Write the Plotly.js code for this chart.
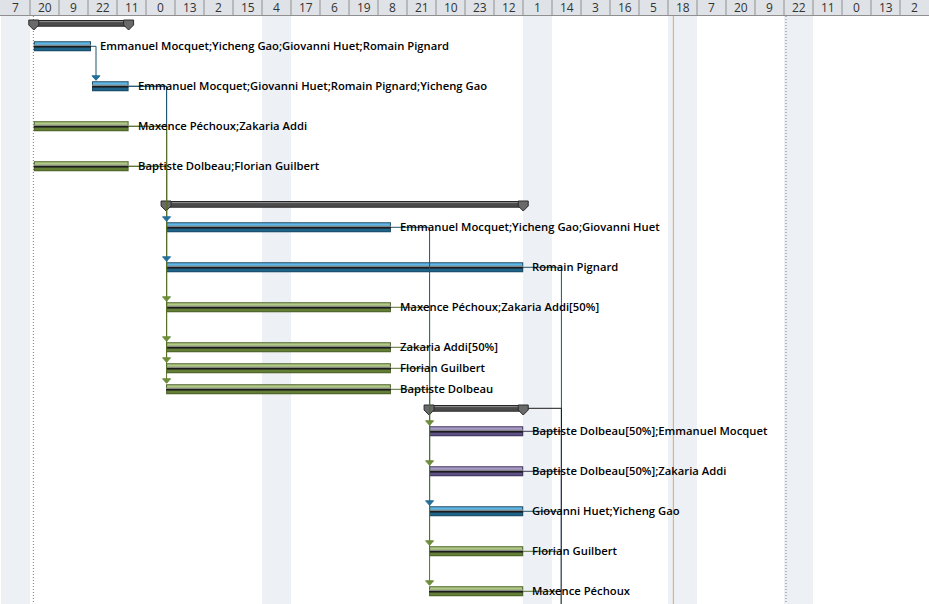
<!DOCTYPE html>
<html><head><meta charset="utf-8">
<script src="https://cdn.plot.ly/plotly-3.0.1.min.js"></script>
<style>html,body{margin:0;padding:0;background:#fff;overflow:hidden}#chart{width:929px;height:604px}</style>
</head><body><div id="chart"></div>
<script>
// ================= DATA =================
const headerLabels = ['7','20','9','22','11','0','13','2','15','4','17','6','19','8','21','10','23','12','1','14','3','16','5','18','7','20','9','22','11','0','13','2'];
const hoursPerColumn = 13;               // timescale: each header cell = 13 h
const rowKinds = ['summary','task','task','task','task',
                  'summary','task','task','task','task','task','task',
                  'summary','task','task','task','task','task'];
// start / finish in hours from the left edge of the timescale
const rowStarts = [14.7, 14.7, 40.8, 14.7, 14.7,
                   74.0, 74.0, 74.0, 74.0, 74.0, 74.0, 74.0,
                   191.9, 191.9, 191.9, 191.9, 191.9, 191.9];
const rowEnds   = [57.2, 40.35, 57.2, 57.2, 57.2,
                   234.1, 174.8, 234.1, 174.8, 174.8, 174.8, 174.8,
                   234.1, 234.1, 234.1, 234.1, 234.1, 234.1];
const resourceLabels = ['',
  'Emmanuel Mocquet;Yicheng Gao;Giovanni Huet;Romain Pignard',
  'Emmanuel Mocquet;Giovanni Huet;Romain Pignard;Yicheng Gao',
  'Maxence Péchoux;Zakaria Addi',
  'Baptiste Dolbeau;Florian Guilbert',
  '',
  'Emmanuel Mocquet;Yicheng Gao;Giovanni Huet',
  'Romain Pignard',
  'Maxence Péchoux;Zakaria Addi[50%]',
  'Zakaria Addi[50%]',
  'Florian Guilbert',
  'Baptiste Dolbeau',
  '',
  'Baptiste Dolbeau[50%];Emmanuel Mocquet',
  'Baptiste Dolbeau[50%];Zakaria Addi',
  'Giovanni Huet;Yicheng Gao',
  'Florian Guilbert',
  'Maxence Péchoux'];
// finish-to-start links [predecessor row, successor row]; -1 = successor below the visible area
const linkPred = [1, 2, 2, 3, 3, 4, 4, 11, 9, 6, 10, 8, 7, 12, 13, 14, 15, 16, 17];
const linkSucc = [2, 6, 7, 8, 9, 10, 11, 13, 14, 15, 16, 17, -1, -1, -1, -1, -1, -1, -1];
const offscreenSuccessorStart = 251.0;
const nonWorkingStarts = [0, 117, 234, 299, 351];
const nonWorkingEnds   = [13, 130, 247, 312, 364];
const projectStart = 14.5;
const projectFinish = 351.9;
const statusDate = 301.4;

// ================= LAYOUT / STYLE =================
const W = 929, H = 604, headerH = 16;
const rowHeights = [21,40,40,40,40,21,40,40,40,21,21,21,21,40,40,40,40,40];
const rowStyle = ['sum','blue','blue','olive','olive','sum','blue','blue','olive','olive','olive','olive',
                  'sum','purple','purple','blue','olive','olive'];
const palette = {
  blue:   {border:'#1b4a66', light:'#5cb6e6', dark:'#1e6488', link:'#1d5470', arrow:'#236f99'},
  olive:  {border:'#4b6127', light:'#b0c985', dark:'#637f37', link:'#566f2c', arrow:'#6d8c38'},
  purple: {border:'#3c325a', light:'#a79ac7', dark:'#5e5186', link:'#3a3257', arrow:'#5e5186'},
  sum:    {border:'#2a2a2a', light:'#8e8e8e', dark:'#4a4a4a', link:'#1a1a1a', arrow:'#1a1a1a'}
};
const pxPerHour = 29 / hoursPerColumn;
const px = p => p / pxPerHour;            // pixel length -> hours
const xMax = headerLabels.length * hoursPerColumn;
const xMin = -px(1);

// row geometry
const rowTop = [];
let acc = headerH;
rowHeights.forEach(h => { rowTop.push(acc); acc += h; });
const center = rowTop.map((t, i) => rowKinds[i] === 'summary' ? t + 7.3 : t + 9.3);

const traces = [];
function barLayer(idx, y0, y1, color, inset) {
  traces.push({
    type: 'bar', orientation: 'h',
    y: idx.map(i => center[i]),
    base: idx.map(i => rowStarts[i] + inset),
    x: idx.map(i => rowEnds[i] - rowStarts[i] - 2 * inset),
    offset: y0, width: y1 - y0,
    marker: {color: color, line: {width: 0}},
    hoverinfo: 'skip', showlegend: false
  });
}
// task bars
['blue', 'olive', 'purple'].forEach(st => {
  const idx = rowStyle.map((s, i) => s === st ? i : -1).filter(i => i >= 0);
  const p = palette[st];
  barLayer(idx, -5, 5, p.border, 0);
  barLayer(idx, -4, -1.6, p.light, px(1));
  barLayer(idx, 1.2, 4, p.dark, px(1));
  barLayer(idx, -1.6, -0.6, '#c9c9c9', 0);
  barLayer(idx, -0.6, 1.2, '#1c1c1c', 0);
});
// summary bars
const sIdx = rowKinds.map((k, i) => k === 'summary' ? i : -1).filter(i => i >= 0);
barLayer(sIdx, -3.3, 3.4, '#262626', 0);
barLayer(sIdx, -2.4, -0.9, '#8a8a8a', 0);
barLayer(sIdx, -0.9, 2.5, '#4b4b4b', 0);
function poly(xs, ys, fill, line) {
  traces.push({type: 'scatter', mode: 'lines', x: xs, y: ys, fill: 'toself', fillcolor: fill,
    line: {color: line, width: 1}, hoverinfo: 'skip', showlegend: false});
}
sIdx.forEach(i => {
  const top = center[i] - 3.3;
  [rowStarts[i], rowEnds[i]].forEach(xc => {
    poly([xc - px(5), xc + px(5), xc + px(5), xc, xc - px(5), xc - px(5)],
         [top, top, top + 5, top + 10, top + 5, top], '#6a6a6a', '#2a2a2a');
  });
});
// links
const arrows = [];
linkPred.forEach((pIdx, k) => {
  const sIdx2 = linkSucc[k];
  const isSum = rowKinds[pIdx] === 'summary';
  const xe = rowEnds[pIdx] + (isSum ? px(5) : 0);
  const yp = center[pIdx];
  const xs = sIdx2 >= 0 ? rowStarts[sIdx2] : offscreenSuccessorStart;
  const lx = Math.max(xs + px(0.5), rowEnds[pIdx] + px(5));
  const yEnd = sIdx2 >= 0 ? center[sIdx2] - 5 - 1.5 : H + 10;
  const col = palette[rowStyle[pIdx]].link;
  traces.push({type: 'scatter', mode: 'lines', x: [xe, lx, lx], y: [yp, yp, yEnd],
    line: {color: col, width: 1}, hoverinfo: 'skip', showlegend: false});
  if (sIdx2 >= 0) arrows.push([lx, center[sIdx2] - 5, palette[rowStyle[pIdx]].arrow]);
});
arrows.forEach(a => {
  const [x, top, c] = a;
  poly([x - px(4), x + px(4), x, x - px(4)], [top - 5.5, top - 5.5, top - 1, top - 5.5], c, c);
});

// background shapes
const shapes = [];
nonWorkingStarts.forEach((s, k) => {
  shapes.push({type: 'rect', xref: 'x', yref: 'y', x0: s, x1: nonWorkingEnds[k], y0: headerH, y1: H,
    fillcolor: '#edf0f5', line: {width: 0}, layer: 'below'});
});
shapes.push({type: 'line', xref: 'x', yref: 'y', x0: projectStart, x1: projectStart, y0: headerH, y1: H,
  line: {color: '#7a7a7a', width: 1, dash: '1px,2px'}, layer: 'below'});
shapes.push({type: 'line', xref: 'x', yref: 'y', x0: projectFinish, x1: projectFinish, y0: headerH, y1: H,
  line: {color: '#7a7a7a', width: 1, dash: '1px,2px'}, layer: 'below'});
shapes.push({type: 'line', xref: 'x', yref: 'y', x0: statusDate, x1: statusDate, y0: headerH, y1: H,
  line: {color: '#f0a060', width: 1}, layer: 'below'});
// header
shapes.push({type: 'rect', xref: 'x', yref: 'y', x0: xMin, x1: xMax, y0: 0, y1: 15.5,
  fillcolor: '#dfe3e8', line: {width: 0}, layer: 'above'});
for (let i = 1; i < headerLabels.length; i++) {
  shapes.push({type: 'line', xref: 'x', yref: 'y', x0: i * hoursPerColumn, x1: i * hoursPerColumn, y0: 0, y1: 15.5,
    line: {color: '#8f8f8f', width: 1}, layer: 'above'});
}
shapes.push({type: 'line', xref: 'x', yref: 'y', x0: xMin, x1: xMax, y0: 15.5, y1: 15.5,
  line: {color: '#8f8f8f', width: 1}, layer: 'above'});

const annotations = [];
headerLabels.forEach((t, i) => annotations.push({
  x: i * hoursPerColumn + hoursPerColumn / 2, y: 7.5, xref: 'x', yref: 'y', text: t, showarrow: false,
  xanchor: 'center', yanchor: 'middle', font: {family: 'Open Sans, Noto Sans, sans-serif', size: 12, color: '#333'}
}));
resourceLabels.forEach((t, i) => {
  if (!t) return;
  annotations.push({x: rowEnds[i], y: center[i] - 0.8, xref: 'x', yref: 'y', text: t, showarrow: false,
    xanchor: 'left', yanchor: 'middle', xshift: 7,
    font: {family: 'Open Sans, Noto Sans, sans-serif', size: 11.25, color: '#000', weight: 600}});
});

Plotly.newPlot('chart', traces, {
  width: W, height: H, margin: {l: 0, r: 0, t: 0, b: 0},
  paper_bgcolor: '#fff', plot_bgcolor: '#fff',
  barmode: 'overlay', showlegend: false,
  xaxis: {range: [xMin, xMax], showgrid: false, zeroline: false, showticklabels: false, fixedrange: true},
  yaxis: {range: [H, 0], showgrid: false, zeroline: false, showticklabels: false, fixedrange: true},
  shapes: shapes, annotations: annotations
}, {staticPlot: true, displayModeBar: false});
</script></body></html>
